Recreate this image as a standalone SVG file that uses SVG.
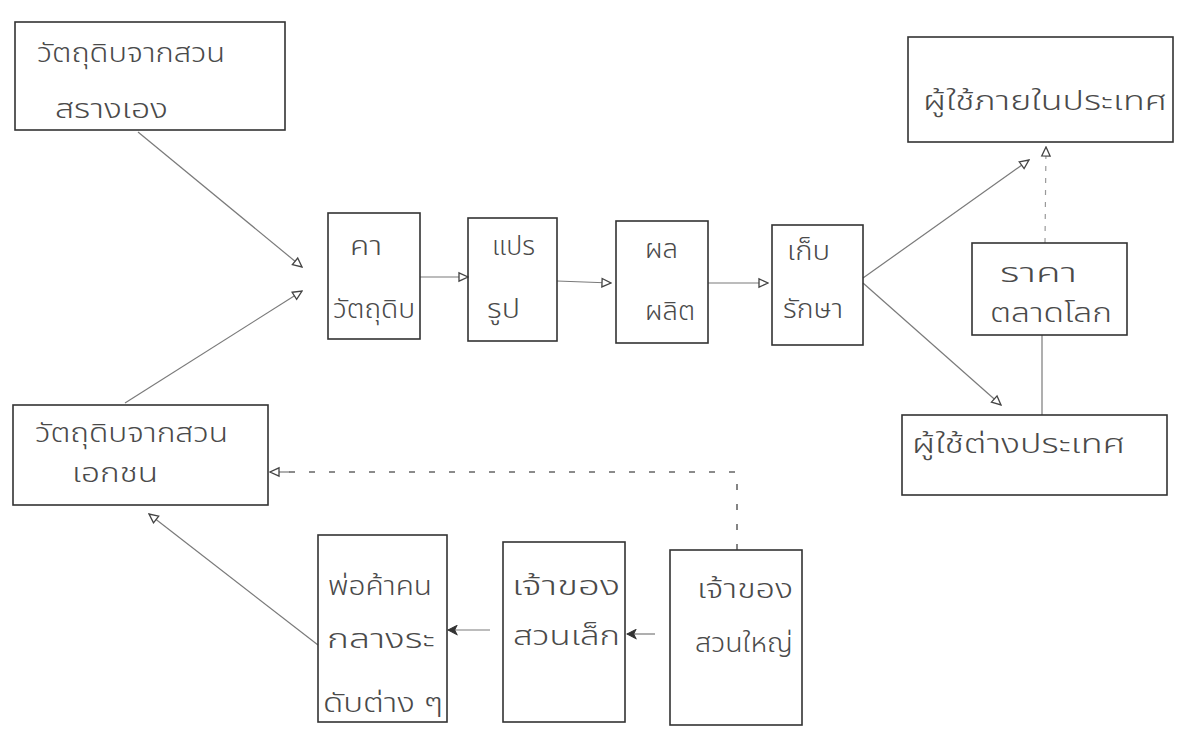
<svg xmlns="http://www.w3.org/2000/svg" width="1179" height="732" viewBox="0 0 1179 732">
<style>
.box{fill:none;stroke:#333;stroke-width:1.6}
.t{font-family:"Noto Sans Thai","Noto Sans","DejaVu Sans",sans-serif;font-size:27px;font-weight:300;fill:#4a4a4a}
.c{fill:none;stroke:#7a7a7a;stroke-width:1.2}
.d{fill:none;stroke:#666;stroke-width:1.6;stroke-dasharray:6 14}
.d2{fill:none;stroke:#999;stroke-width:1.2;stroke-dasharray:5 7}
</style>
<defs>
<marker id="tri" viewBox="0 0 10 10" refX="9" refY="5" markerWidth="12" markerHeight="12" orient="auto" markerUnits="userSpaceOnUse">
<path d="M1.5,1.5 L9,5 L1.5,8.5 Z" fill="#fff" stroke="#444" stroke-width="1.1"/>
</marker>
<marker id="blob" viewBox="0 0 10 10" refX="9" refY="5" markerWidth="11" markerHeight="11" orient="auto" markerUnits="userSpaceOnUse">
<path d="M1,1 L9,5 L1,9 L3,5 Z" fill="#333" stroke="#333" stroke-width="1"/>
</marker>
</defs>

<g id="connectors">
<line class="c" x1="138" y1="132" x2="302" y2="267" marker-end="url(#tri)"/>
<line class="c" x1="125" y1="403" x2="302" y2="291" marker-end="url(#tri)"/>
<line class="c" x1="420" y1="277" x2="468" y2="277" marker-end="url(#tri)"/>
<line class="c" x1="557" y1="281" x2="611" y2="283" marker-end="url(#tri)"/>
<line class="c" x1="708" y1="283" x2="768" y2="283" marker-end="url(#tri)"/>
<line class="c" x1="863" y1="278" x2="1029" y2="160" marker-end="url(#tri)"/>
<line class="c" x1="863" y1="283" x2="1001" y2="405" marker-end="url(#tri)"/>
<line class="d2" x1="1045" y1="243" x2="1046" y2="147" marker-end="url(#tri)"/>
<line class="c" x1="1042" y1="335" x2="1042" y2="415"/>
<polyline class="d" points="737,550 737,472 287,472"/>
<line class="c" x1="290" y1="472" x2="270" y2="472" marker-end="url(#tri)"/>
<line class="c" x1="318" y1="645" x2="149" y2="514" marker-end="url(#tri)"/>
<line class="c" x1="490" y1="630" x2="448" y2="630" marker-end="url(#blob)"/>
<line class="c" x1="655" y1="634" x2="627" y2="634" marker-end="url(#blob)"/>
</g>

<g id="own">
<rect class="box" x="15" y="22" width="270" height="108"/>
<text class="t" x="37" y="62" textLength="188" lengthAdjust="spacingAndGlyphs">วัตถุดิบจากสวน</text>
<text class="t" x="55" y="118" textLength="113" lengthAdjust="spacingAndGlyphs">สรางเอง</text>
</g>

<g id="domestic">
<rect class="box" x="908" y="37" width="265" height="105"/>
<text class="t" x="923" y="110" textLength="244" lengthAdjust="spacingAndGlyphs">ผู้ใช้ภายในประเทศ</text>
</g>

<g id="rawcost">
<rect class="box" x="328" y="213" width="92" height="126"/>
<text class="t" x="350" y="255" textLength="32" lengthAdjust="spacingAndGlyphs">คา</text>
<text class="t" x="333" y="318" textLength="82" lengthAdjust="spacingAndGlyphs">วัตถุดิบ</text>
</g>

<g id="process">
<rect class="box" x="468" y="218" width="89" height="123"/>
<text class="t" x="492" y="255" textLength="43" lengthAdjust="spacingAndGlyphs">แปร</text>
<text class="t" x="487" y="318" textLength="33" lengthAdjust="spacingAndGlyphs">รูป</text>
</g>

<g id="product">
<rect class="box" x="616" y="221" width="92" height="122"/>
<text class="t" x="645" y="258" textLength="33" lengthAdjust="spacingAndGlyphs">ผล</text>
<text class="t" x="645" y="320" textLength="50" lengthAdjust="spacingAndGlyphs">ผลิต</text>
</g>

<g id="storage">
<rect class="box" x="772" y="225" width="91" height="120"/>
<text class="t" x="787" y="260" textLength="43" lengthAdjust="spacingAndGlyphs">เก็บ</text>
<text class="t" x="783" y="318" textLength="60" lengthAdjust="spacingAndGlyphs">รักษา</text>
</g>

<g id="worldprice">
<rect class="box" x="972" y="243" width="155" height="92"/>
<text class="t" x="1000" y="282" textLength="77" lengthAdjust="spacingAndGlyphs">ราคา</text>
<text class="t" x="990" y="322" textLength="122" lengthAdjust="spacingAndGlyphs">ตลาดโลก</text>
</g>

<g id="foreign">
<rect class="box" x="902" y="415" width="265" height="80"/>
<text class="t" x="912" y="453" textLength="213" lengthAdjust="spacingAndGlyphs">ผู้ใช้ต่างประเทศ</text>
</g>

<g id="private">
<rect class="box" x="13" y="405" width="255" height="100"/>
<text class="t" x="35" y="442" textLength="193" lengthAdjust="spacingAndGlyphs">วัตถุดิบจากสวน</text>
<text class="t" x="72" y="482" textLength="86" lengthAdjust="spacingAndGlyphs">เอกชน</text>
</g>

<g id="middlemen">
<rect class="box" x="318" y="535" width="129" height="187"/>
<text class="t" x="328" y="595" textLength="104" lengthAdjust="spacingAndGlyphs">พ่อค้าคน</text>
<text class="t" x="327" y="648" textLength="108" lengthAdjust="spacingAndGlyphs">กลางระ</text>
<text class="t" x="323" y="712" textLength="120" lengthAdjust="spacingAndGlyphs">ดับต่าง ๆ</text>
</g>

<g id="smallowner">
<rect class="box" x="503" y="542" width="122" height="180"/>
<text class="t" x="512" y="595" textLength="108" lengthAdjust="spacingAndGlyphs">เจ้าของ</text>
<text class="t" x="513" y="645" textLength="107" lengthAdjust="spacingAndGlyphs">สวนเล็ก</text>
</g>

<g id="largeowner">
<rect class="box" x="670" y="550" width="132" height="175"/>
<text class="t" x="697" y="598" textLength="96" lengthAdjust="spacingAndGlyphs">เจ้าของ</text>
<text class="t" x="695" y="652" textLength="98" lengthAdjust="spacingAndGlyphs">สวนใหญ่</text>
</g>
</svg>
